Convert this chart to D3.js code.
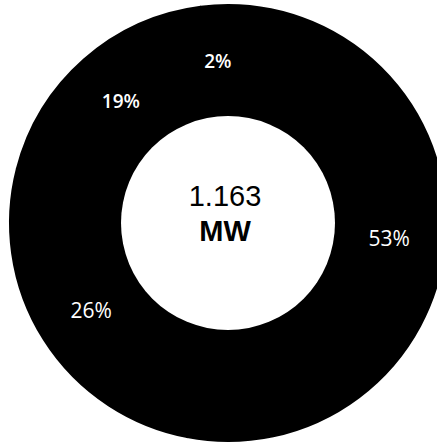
<!DOCTYPE html>
<html>
<head>
<meta charset="utf-8">
<script src="https://cdn.jsdelivr.net/npm/d3@7"></script>
<style>
html, body { margin: 0; padding: 0; background: #fff; }
svg { display: block; }
</style>
</head>
<body>
<svg id="chart" width="437" height="444"></svg>
<script>
// Data
const shares = [53, 26, 19, 2];
const shareLabels = ["53%", "26%", "19%", "2%"];
const labelBold = [false, false, true, true];
const centerLines = ["1.163", "MW"];

const svg = d3.select("#chart");
const cx = 228, cy = 223;
const outerR = 218, innerR = 107, labelR = 162;

const pie = d3.pie().sort(null).value(d => d)(shares);
const arc = d3.arc().innerRadius(innerR).outerRadius(outerR);
const labelArc = d3.arc().innerRadius(labelR).outerRadius(labelR);

const g = svg.append("g").attr("transform", `translate(${cx},${cy})`);

// Slices are all drawn in black; a matching stroke hides antialiasing seams
g.selectAll("path.slice")
  .data(pie)
  .join("path")
  .attr("class", "slice")
  .attr("d", arc)
  .attr("fill", "#000")
  .attr("stroke", "#000")
  .attr("stroke-width", 2)
  .attr("stroke-linejoin", "round");

// Redraw interior of each slice boundary so the ring edge stays crisp
g.append("path")
  .attr("d", d3.arc().innerRadius(innerR).outerRadius(outerR)({startAngle: 0, endAngle: 2 * Math.PI}))
  .attr("fill", "none")
  .attr("stroke", "none");

// inner white hole kept clean
g.append("circle")
  .attr("r", innerR)
  .attr("fill", "#fff");

g.selectAll("text.pct")
  .data(pie)
  .join("text")
  .attr("class", "pct")
  .attr("transform", d => `translate(${labelArc.centroid(d)})`)
  .attr("text-anchor", "middle")
  .attr("dominant-baseline", "central")
  .attr("fill", "#fff")
  .attr("font-family", "'Open Sans', 'Noto Sans', sans-serif")
  .attr("font-size", (d, i) => labelBold[i] ? 19 : 21)
  .attr("font-weight", (d, i) => labelBold[i] ? 600 : 400)
  .text((d, i) => shareLabels[i]);

g.append("text")
  .attr("x", -3).attr("y", -17)
  .attr("text-anchor", "middle")
  .attr("font-family", "'Liberation Sans', Arial, sans-serif")
  .attr("font-size", 29)
  .attr("fill", "#000")
  .text(centerLines[0]);

g.append("text")
  .attr("x", -3).attr("y", 18)
  .attr("text-anchor", "middle")
  .attr("font-family", "'Liberation Sans', Arial, sans-serif")
  .attr("font-size", 29)
  .attr("font-weight", 700)
  .attr("fill", "#000")
  .text(centerLines[1]);
</script>
</body>
</html>
